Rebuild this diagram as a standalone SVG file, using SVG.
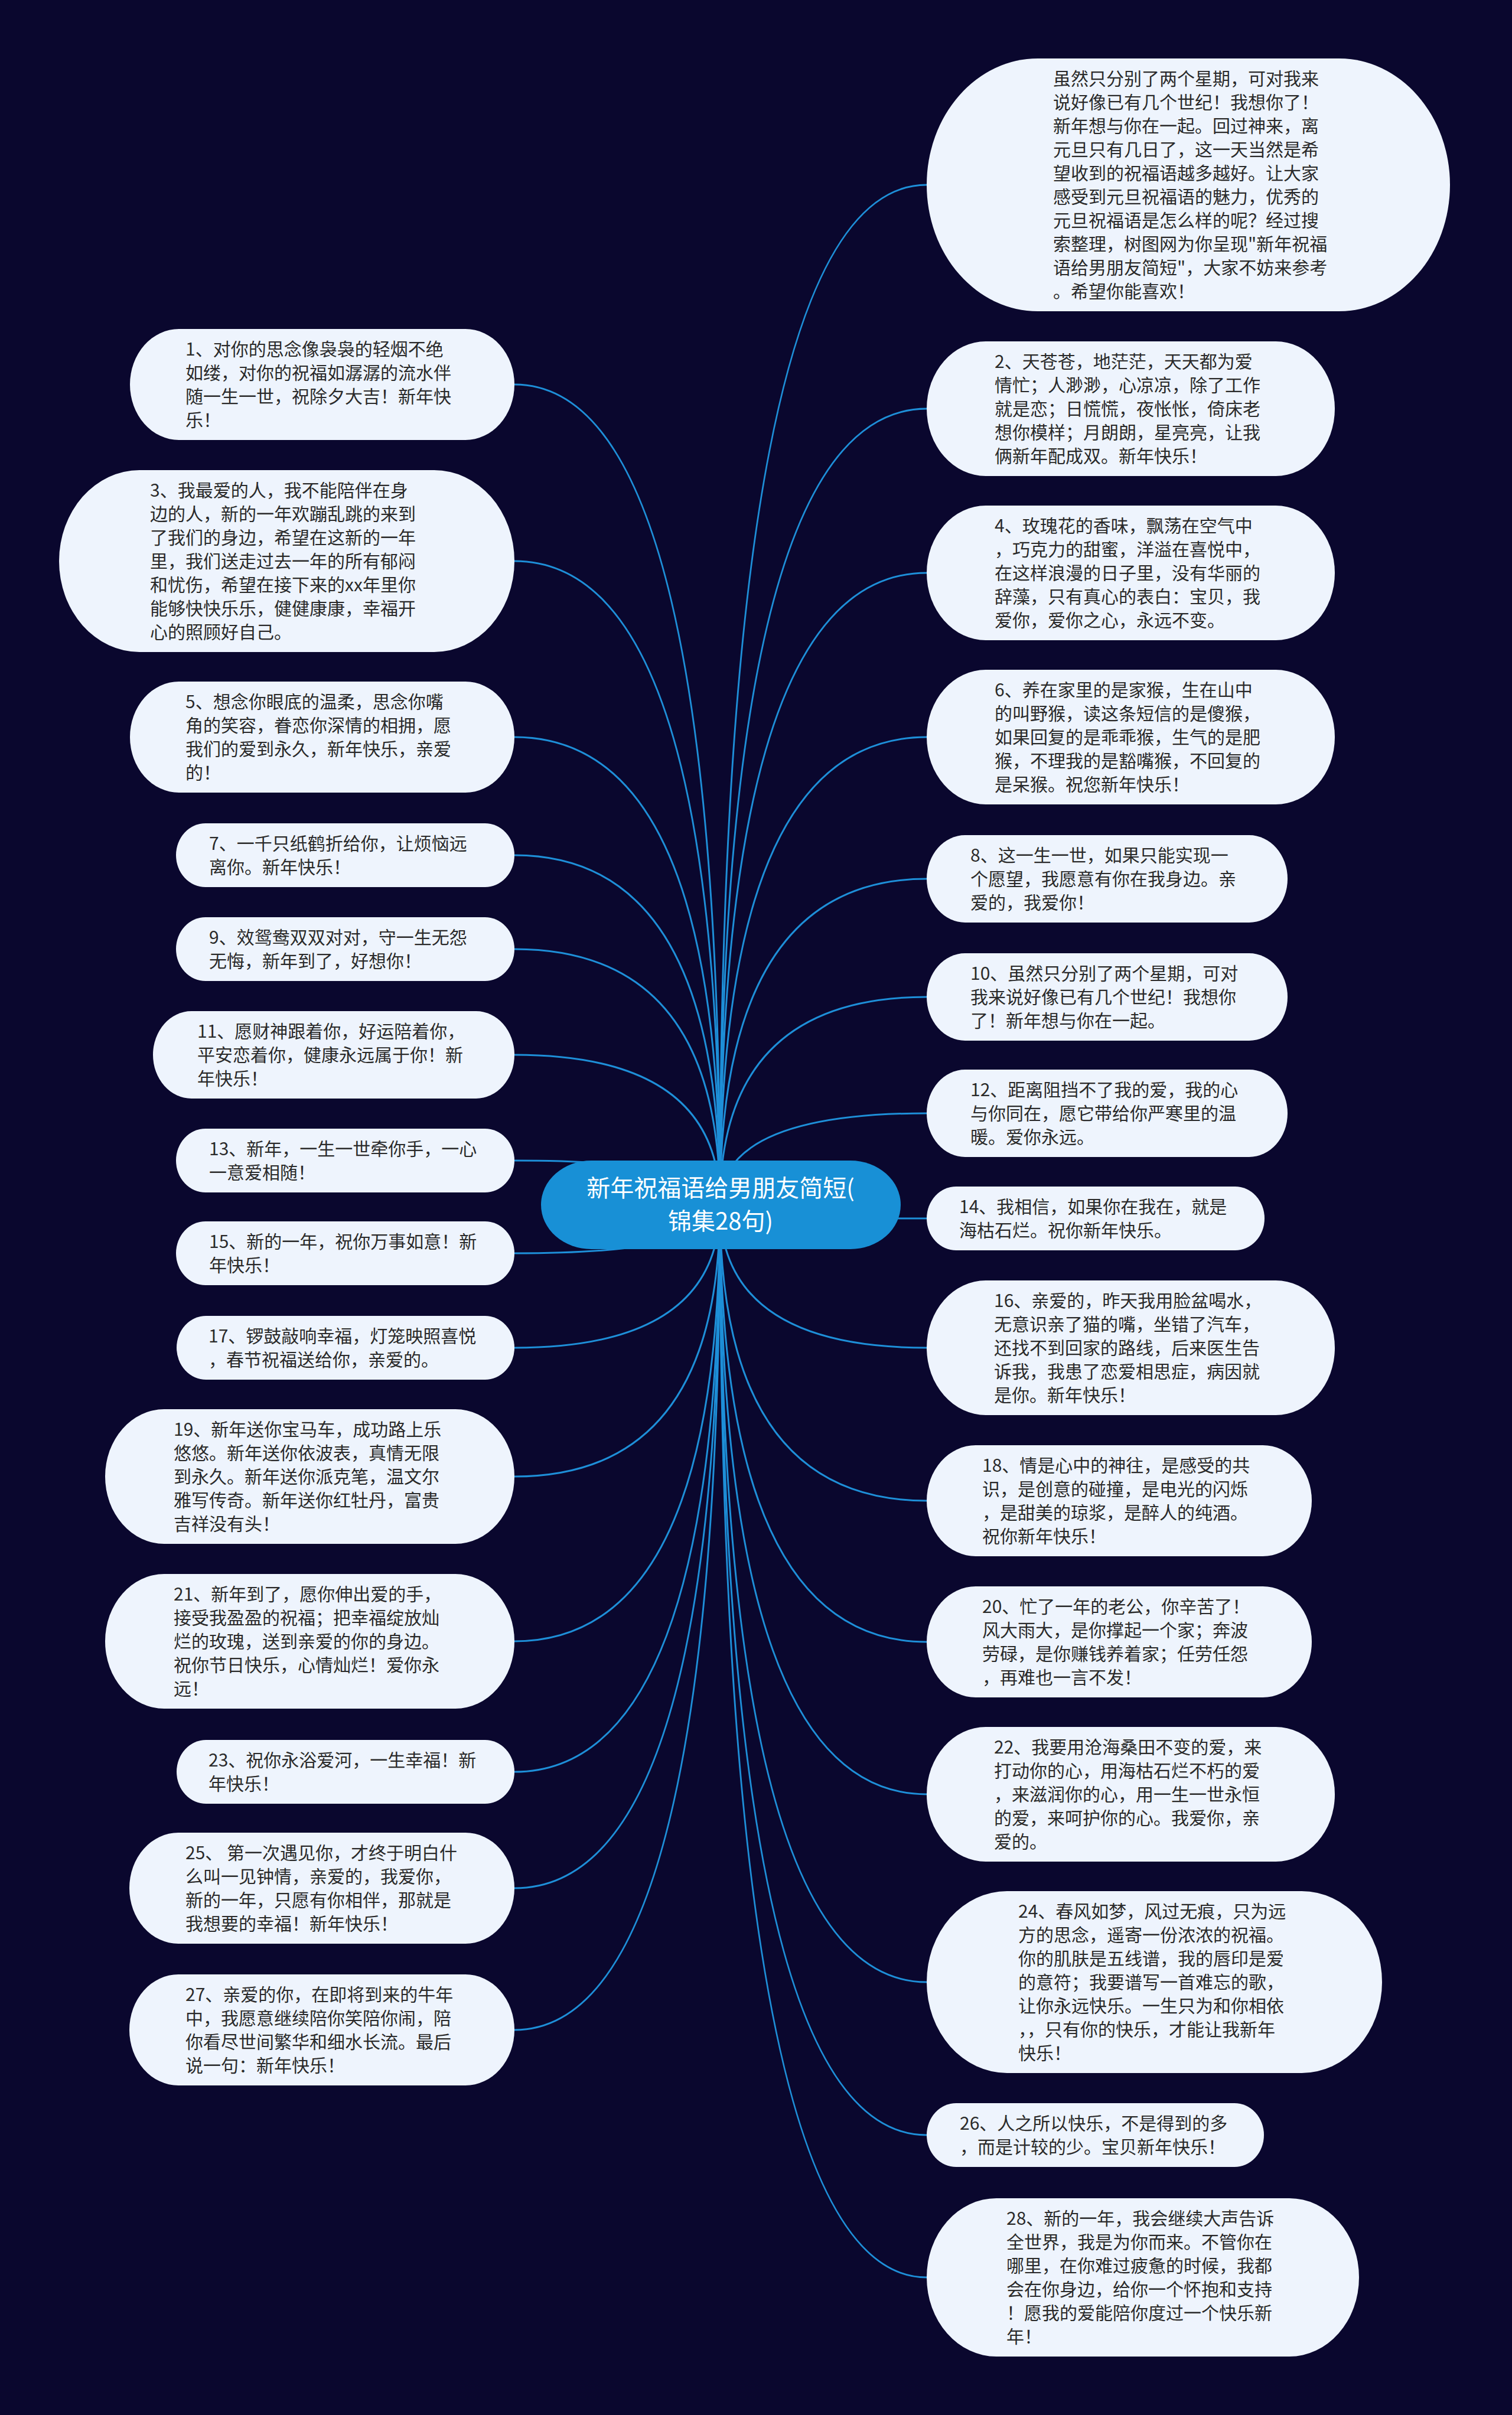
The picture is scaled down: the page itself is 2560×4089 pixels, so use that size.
<svg xmlns="http://www.w3.org/2000/svg" width="2560" height="4089" viewBox="0 0 2560 4089">
<style>
.bg{fill:#0a072e}
.leaf rect{fill:#eef4fd}
.leaf text{font-family:"Noto Sans CJK SC","Noto Sans",sans-serif;font-size:30px;fill:#2a2a2a}
.root rect{fill:#1890d6}
.root text{font-family:"Noto Sans CJK SC","Noto Sans",sans-serif;font-size:40px;fill:#ffffff;text-anchor:middle}
#connectors path{fill:none;stroke:#1e8fd8;stroke-width:3}
</style>
<rect class="bg" x="0" y="0" width="2560" height="4089"/>
<g id="connectors">
<path d="M1219 2040 Q1219 313 1569 313"/>
<path d="M1219 2040 Q1219 692 1569 692"/>
<path d="M1219 2040 Q1219 970 1569 970"/>
<path d="M1219 2040 Q1219 1248 1569 1248"/>
<path d="M1219 2040 Q1219 1488 1569 1488"/>
<path d="M1219 2040 Q1219 1688 1569 1688"/>
<path d="M1219 2040 Q1219 1885 1569 1885"/>
<path d="M1219 2040 Q1219 2063 1569 2063"/>
<path d="M1219 2040 Q1219 2282 1569 2282"/>
<path d="M1219 2040 Q1219 2541 1569 2541"/>
<path d="M1219 2040 Q1219 2780 1569 2780"/>
<path d="M1219 2040 Q1219 3038 1569 3038"/>
<path d="M1219 2040 Q1219 3356 1569 3356"/>
<path d="M1219 2040 Q1219 3615 1569 3615"/>
<path d="M1219 2040 Q1219 3856 1569 3856"/>
<path d="M1219 2040 Q1219 651 871 651"/>
<path d="M1219 2040 Q1219 950 871 950"/>
<path d="M1219 2040 Q1219 1248 871 1248"/>
<path d="M1219 2040 Q1219 1448 871 1448"/>
<path d="M1219 2040 Q1219 1607 871 1607"/>
<path d="M1219 2040 Q1219 1786 871 1786"/>
<path d="M1219 2040 Q1219 1965 871 1965"/>
<path d="M1219 2040 Q1219 2122 871 2122"/>
<path d="M1219 2040 Q1219 2282 871 2282"/>
<path d="M1219 2040 Q1219 2500 871 2500"/>
<path d="M1219 2040 Q1219 2779 871 2779"/>
<path d="M1219 2040 Q1219 3000 871 3000"/>
<path d="M1219 2040 Q1219 3197 871 3197"/>
<path d="M1219 2040 Q1219 3437 871 3437"/>
</g>

<g id="node-intro" class="leaf">
<rect x="1569" y="99" width="886" height="428" rx="188" ry="214"/>
<text x="1783" y="144"><tspan x="1783">虽然只分别了两个星期，可对我来</tspan><tspan x="1783" dy="40">说好像已有几个世纪！我想你了！</tspan><tspan x="1783" dy="40">新年想与你在一起。回过神来，离</tspan><tspan x="1783" dy="40">元旦只有几日了，这一天当然是希</tspan><tspan x="1783" dy="40">望收到的祝福语越多越好。让大家</tspan><tspan x="1783" dy="40">感受到元旦祝福语的魅力，优秀的</tspan><tspan x="1783" dy="40">元旦祝福语是怎么样的呢？经过搜</tspan><tspan x="1783" dy="40">索整理，树图网为你呈现&quot;新年祝福</tspan><tspan x="1783" dy="40">语给男朋友简短&quot;，大家不妨来参考</tspan><tspan x="1783" dy="40">。希望你能喜欢！</tspan></text>
</g>

<g id="node-2" class="leaf">
<rect x="1569" y="578" width="691" height="228" rx="100" ry="114"/>
<text x="1684" y="623"><tspan x="1684">2、天苍苍，地茫茫，天天都为爱</tspan><tspan x="1684" dy="40">情忙；人渺渺，心凉凉，除了工作</tspan><tspan x="1684" dy="40">就是恋；日慌慌，夜怅怅，倚床老</tspan><tspan x="1684" dy="40">想你模样；月朗朗，星亮亮，让我</tspan><tspan x="1684" dy="40">俩新年配成双。新年快乐！</tspan></text>
</g>

<g id="node-4" class="leaf">
<rect x="1569" y="856" width="691" height="228" rx="100" ry="114"/>
<text x="1684" y="901"><tspan x="1684">4、玫瑰花的香味，飘荡在空气中</tspan><tspan x="1684" dy="40">，巧克力的甜蜜，洋溢在喜悦中，</tspan><tspan x="1684" dy="40">在这样浪漫的日子里，没有华丽的</tspan><tspan x="1684" dy="40">辞藻，只有真心的表白：宝贝，我</tspan><tspan x="1684" dy="40">爱你，爱你之心，永远不变。</tspan></text>
</g>

<g id="node-6" class="leaf">
<rect x="1569" y="1134" width="691" height="228" rx="100" ry="114"/>
<text x="1684" y="1179"><tspan x="1684">6、养在家里的是家猴，生在山中</tspan><tspan x="1684" dy="40">的叫野猴，读这条短信的是傻猴，</tspan><tspan x="1684" dy="40">如果回复的是乖乖猴，生气的是肥</tspan><tspan x="1684" dy="40">猴，不理我的是豁嘴猴，不回复的</tspan><tspan x="1684" dy="40">是呆猴。祝您新年快乐！</tspan></text>
</g>

<g id="node-8" class="leaf">
<rect x="1569" y="1414" width="611" height="148" rx="65" ry="74"/>
<text x="1643" y="1459"><tspan x="1643">8、这一生一世，如果只能实现一</tspan><tspan x="1643" dy="40">个愿望，我愿意有你在我身边。亲</tspan><tspan x="1643" dy="40">爱的，我爱你！</tspan></text>
</g>

<g id="node-10" class="leaf">
<rect x="1569" y="1614" width="611" height="148" rx="65" ry="74"/>
<text x="1643" y="1659"><tspan x="1643">10、虽然只分别了两个星期，可对</tspan><tspan x="1643" dy="40">我来说好像已有几个世纪！我想你</tspan><tspan x="1643" dy="40">了！新年想与你在一起。</tspan></text>
</g>

<g id="node-12" class="leaf">
<rect x="1569" y="1811" width="611" height="148" rx="65" ry="74"/>
<text x="1643" y="1856"><tspan x="1643">12、距离阻挡不了我的爱，我的心</tspan><tspan x="1643" dy="40">与你同在，愿它带给你严寒里的温</tspan><tspan x="1643" dy="40">暖。爱你永远。</tspan></text>
</g>

<g id="node-14" class="leaf">
<rect x="1569" y="2009" width="572" height="108" rx="50" ry="54"/>
<text x="1624" y="2054"><tspan x="1624">14、我相信，如果你在我在，就是</tspan><tspan x="1624" dy="40">海枯石烂。祝你新年快乐。</tspan></text>
</g>

<g id="node-16" class="leaf">
<rect x="1569" y="2168" width="691" height="228" rx="100" ry="114"/>
<text x="1683" y="2213"><tspan x="1683">16、亲爱的，昨天我用脸盆喝水，</tspan><tspan x="1683" dy="40">无意识亲了猫的嘴，坐错了汽车，</tspan><tspan x="1683" dy="40">还找不到回家的路线，后来医生告</tspan><tspan x="1683" dy="40">诉我，我患了恋爱相思症，病因就</tspan><tspan x="1683" dy="40">是你。新年快乐！</tspan></text>
</g>

<g id="node-18" class="leaf">
<rect x="1569" y="2447" width="652" height="188" rx="83" ry="94"/>
<text x="1663" y="2492"><tspan x="1663">18、情是心中的神往，是感受的共</tspan><tspan x="1663" dy="40">识，是创意的碰撞，是电光的闪烁</tspan><tspan x="1663" dy="40">，是甜美的琼浆，是醉人的纯酒。</tspan><tspan x="1663" dy="40">祝你新年快乐！</tspan></text>
</g>

<g id="node-20" class="leaf">
<rect x="1569" y="2686" width="652" height="188" rx="83" ry="94"/>
<text x="1663" y="2731"><tspan x="1663">20、忙了一年的老公，你辛苦了！</tspan><tspan x="1663" dy="40">风大雨大，是你撑起一个家；奔波</tspan><tspan x="1663" dy="40">劳碌，是你赚钱养着家；任劳任怨</tspan><tspan x="1663" dy="40">，再难也一言不发！</tspan></text>
</g>

<g id="node-22" class="leaf">
<rect x="1569" y="2924" width="691" height="228" rx="100" ry="114"/>
<text x="1683" y="2969"><tspan x="1683">22、我要用沧海桑田不变的爱，来</tspan><tspan x="1683" dy="40">打动你的心，用海枯石烂不朽的爱</tspan><tspan x="1683" dy="40">，来滋润你的心，用一生一世永恒</tspan><tspan x="1683" dy="40">的爱，来呵护你的心。我爱你，亲</tspan><tspan x="1683" dy="40">爱的。</tspan></text>
</g>

<g id="node-24" class="leaf">
<rect x="1569" y="3202" width="771" height="308" rx="136" ry="154"/>
<text x="1724" y="3247"><tspan x="1724">24、春风如梦，风过无痕，只为远</tspan><tspan x="1724" dy="40">方的思念，遥寄一份浓浓的祝福。</tspan><tspan x="1724" dy="40">你的肌肤是五线谱，我的唇印是爱</tspan><tspan x="1724" dy="40">的意符；我要谱写一首难忘的歌，</tspan><tspan x="1724" dy="40">让你永远快乐。一生只为和你相依</tspan><tspan x="1724" dy="40">，，只有你的快乐，才能让我新年</tspan><tspan x="1724" dy="40">快乐！</tspan></text>
</g>

<g id="node-26" class="leaf">
<rect x="1569" y="3561" width="571" height="108" rx="50" ry="54"/>
<text x="1625" y="3606"><tspan x="1625">26、人之所以快乐，不是得到的多</tspan><tspan x="1625" dy="40">，而是计较的少。宝贝新年快乐！</tspan></text>
</g>

<g id="node-28" class="leaf">
<rect x="1569" y="3722" width="732" height="268" rx="118" ry="134"/>
<text x="1704" y="3767"><tspan x="1704">28、新的一年，我会继续大声告诉</tspan><tspan x="1704" dy="40">全世界，我是为你而来。不管你在</tspan><tspan x="1704" dy="40">哪里，在你难过疲惫的时候，我都</tspan><tspan x="1704" dy="40">会在你身边，给你一个怀抱和支持</tspan><tspan x="1704" dy="40">！愿我的爱能陪你度过一个快乐新</tspan><tspan x="1704" dy="40">年！</tspan></text>
</g>

<g id="node-1" class="leaf">
<rect x="220" y="557" width="651" height="188" rx="83" ry="94"/>
<text x="314" y="602"><tspan x="314">1、对你的思念像袅袅的轻烟不绝</tspan><tspan x="314" dy="40">如缕，对你的祝福如潺潺的流水伴</tspan><tspan x="314" dy="40">随一生一世，祝除夕大吉！新年快</tspan><tspan x="314" dy="40">乐！</tspan></text>
</g>

<g id="node-3" class="leaf">
<rect x="100" y="796" width="771" height="308" rx="136" ry="154"/>
<text x="254" y="841"><tspan x="254">3、我最爱的人，我不能陪伴在身</tspan><tspan x="254" dy="40">边的人，新的一年欢蹦乱跳的来到</tspan><tspan x="254" dy="40">了我们的身边，希望在这新的一年</tspan><tspan x="254" dy="40">里，我们送走过去一年的所有郁闷</tspan><tspan x="254" dy="40">和忧伤，希望在接下来的xx年里你</tspan><tspan x="254" dy="40">能够快快乐乐，健健康康，幸福开</tspan><tspan x="254" dy="40">心的照顾好自己。</tspan></text>
</g>

<g id="node-5" class="leaf">
<rect x="220" y="1154" width="651" height="188" rx="83" ry="94"/>
<text x="314" y="1199"><tspan x="314">5、想念你眼底的温柔，思念你嘴</tspan><tspan x="314" dy="40">角的笑容，眷恋你深情的相拥，愿</tspan><tspan x="314" dy="40">我们的爱到永久，新年快乐，亲爱</tspan><tspan x="314" dy="40">的！</tspan></text>
</g>

<g id="node-7" class="leaf">
<rect x="298" y="1394" width="573" height="108" rx="50" ry="54"/>
<text x="354" y="1439"><tspan x="354">7、一千只纸鹤折给你，让烦恼远</tspan><tspan x="354" dy="40">离你。新年快乐！</tspan></text>
</g>

<g id="node-9" class="leaf">
<rect x="298" y="1553" width="573" height="108" rx="50" ry="54"/>
<text x="354" y="1598"><tspan x="354">9、效鸳鸯双双对对，守一生无怨</tspan><tspan x="354" dy="40">无悔，新年到了，好想你！</tspan></text>
</g>

<g id="node-11" class="leaf">
<rect x="259" y="1712" width="612" height="148" rx="65" ry="74"/>
<text x="334" y="1757"><tspan x="334">11、愿财神跟着你，好运陪着你，</tspan><tspan x="334" dy="40">平安恋着你，健康永远属于你！新</tspan><tspan x="334" dy="40">年快乐！</tspan></text>
</g>

<g id="node-13" class="leaf">
<rect x="298" y="1911" width="573" height="108" rx="50" ry="54"/>
<text x="354" y="1956"><tspan x="354">13、新年，一生一世牵你手，一心</tspan><tspan x="354" dy="40">一意爱相随！</tspan></text>
</g>

<g id="node-15" class="leaf">
<rect x="298" y="2068" width="573" height="108" rx="50" ry="54"/>
<text x="354" y="2113"><tspan x="354">15、新的一年，祝你万事如意！新</tspan><tspan x="354" dy="40">年快乐！</tspan></text>
</g>

<g id="node-17" class="leaf">
<rect x="299" y="2228" width="572" height="108" rx="50" ry="54"/>
<text x="353" y="2273"><tspan x="353">17、锣鼓敲响幸福，灯笼映照喜悦</tspan><tspan x="353" dy="40">，春节祝福送给你，亲爱的。</tspan></text>
</g>

<g id="node-19" class="leaf">
<rect x="178" y="2386" width="693" height="228" rx="100" ry="114"/>
<text x="294" y="2431"><tspan x="294">19、新年送你宝马车，成功路上乐</tspan><tspan x="294" dy="40">悠悠。新年送你依波表，真情无限</tspan><tspan x="294" dy="40">到永久。新年送你派克笔，温文尔</tspan><tspan x="294" dy="40">雅写传奇。新年送你红牡丹，富贵</tspan><tspan x="294" dy="40">吉祥没有头！</tspan></text>
</g>

<g id="node-21" class="leaf">
<rect x="178" y="2665" width="693" height="228" rx="100" ry="114"/>
<text x="294" y="2710"><tspan x="294">21、新年到了，愿你伸出爱的手，</tspan><tspan x="294" dy="40">接受我盈盈的祝福；把幸福绽放灿</tspan><tspan x="294" dy="40">烂的玫瑰，送到亲爱的你的身边。</tspan><tspan x="294" dy="40">祝你节日快乐，心情灿烂！爱你永</tspan><tspan x="294" dy="40">远！</tspan></text>
</g>

<g id="node-23" class="leaf">
<rect x="299" y="2946" width="572" height="108" rx="50" ry="54"/>
<text x="353" y="2991"><tspan x="353">23、祝你永浴爱河，一生幸福！新</tspan><tspan x="353" dy="40">年快乐！</tspan></text>
</g>

<g id="node-25" class="leaf">
<rect x="219" y="3103" width="652" height="188" rx="83" ry="94"/>
<text x="314" y="3148"><tspan x="314">25、 第一次遇见你，才终于明白什</tspan><tspan x="314" dy="40">么叫一见钟情，亲爱的，我爱你，</tspan><tspan x="314" dy="40">新的一年，只愿有你相伴，那就是</tspan><tspan x="314" dy="40">我想要的幸福！新年快乐！</tspan></text>
</g>

<g id="node-27" class="leaf">
<rect x="219" y="3343" width="652" height="188" rx="83" ry="94"/>
<text x="314" y="3388"><tspan x="314">27、亲爱的你，在即将到来的牛年</tspan><tspan x="314" dy="40">中，我愿意继续陪你笑陪你闹，陪</tspan><tspan x="314" dy="40">你看尽世间繁华和细水长流。最后</tspan><tspan x="314" dy="40">说一句：新年快乐！</tspan></text>
</g>

<g id="root" class="root">
<rect x="916" y="1965" width="609" height="150" rx="85" ry="75"/>
<text x="1220" y="2026"><tspan x="1220">新年祝福语给男朋友简短(</tspan><tspan x="1220" dy="56">锦集28句)</tspan></text>
</g>
</svg>
